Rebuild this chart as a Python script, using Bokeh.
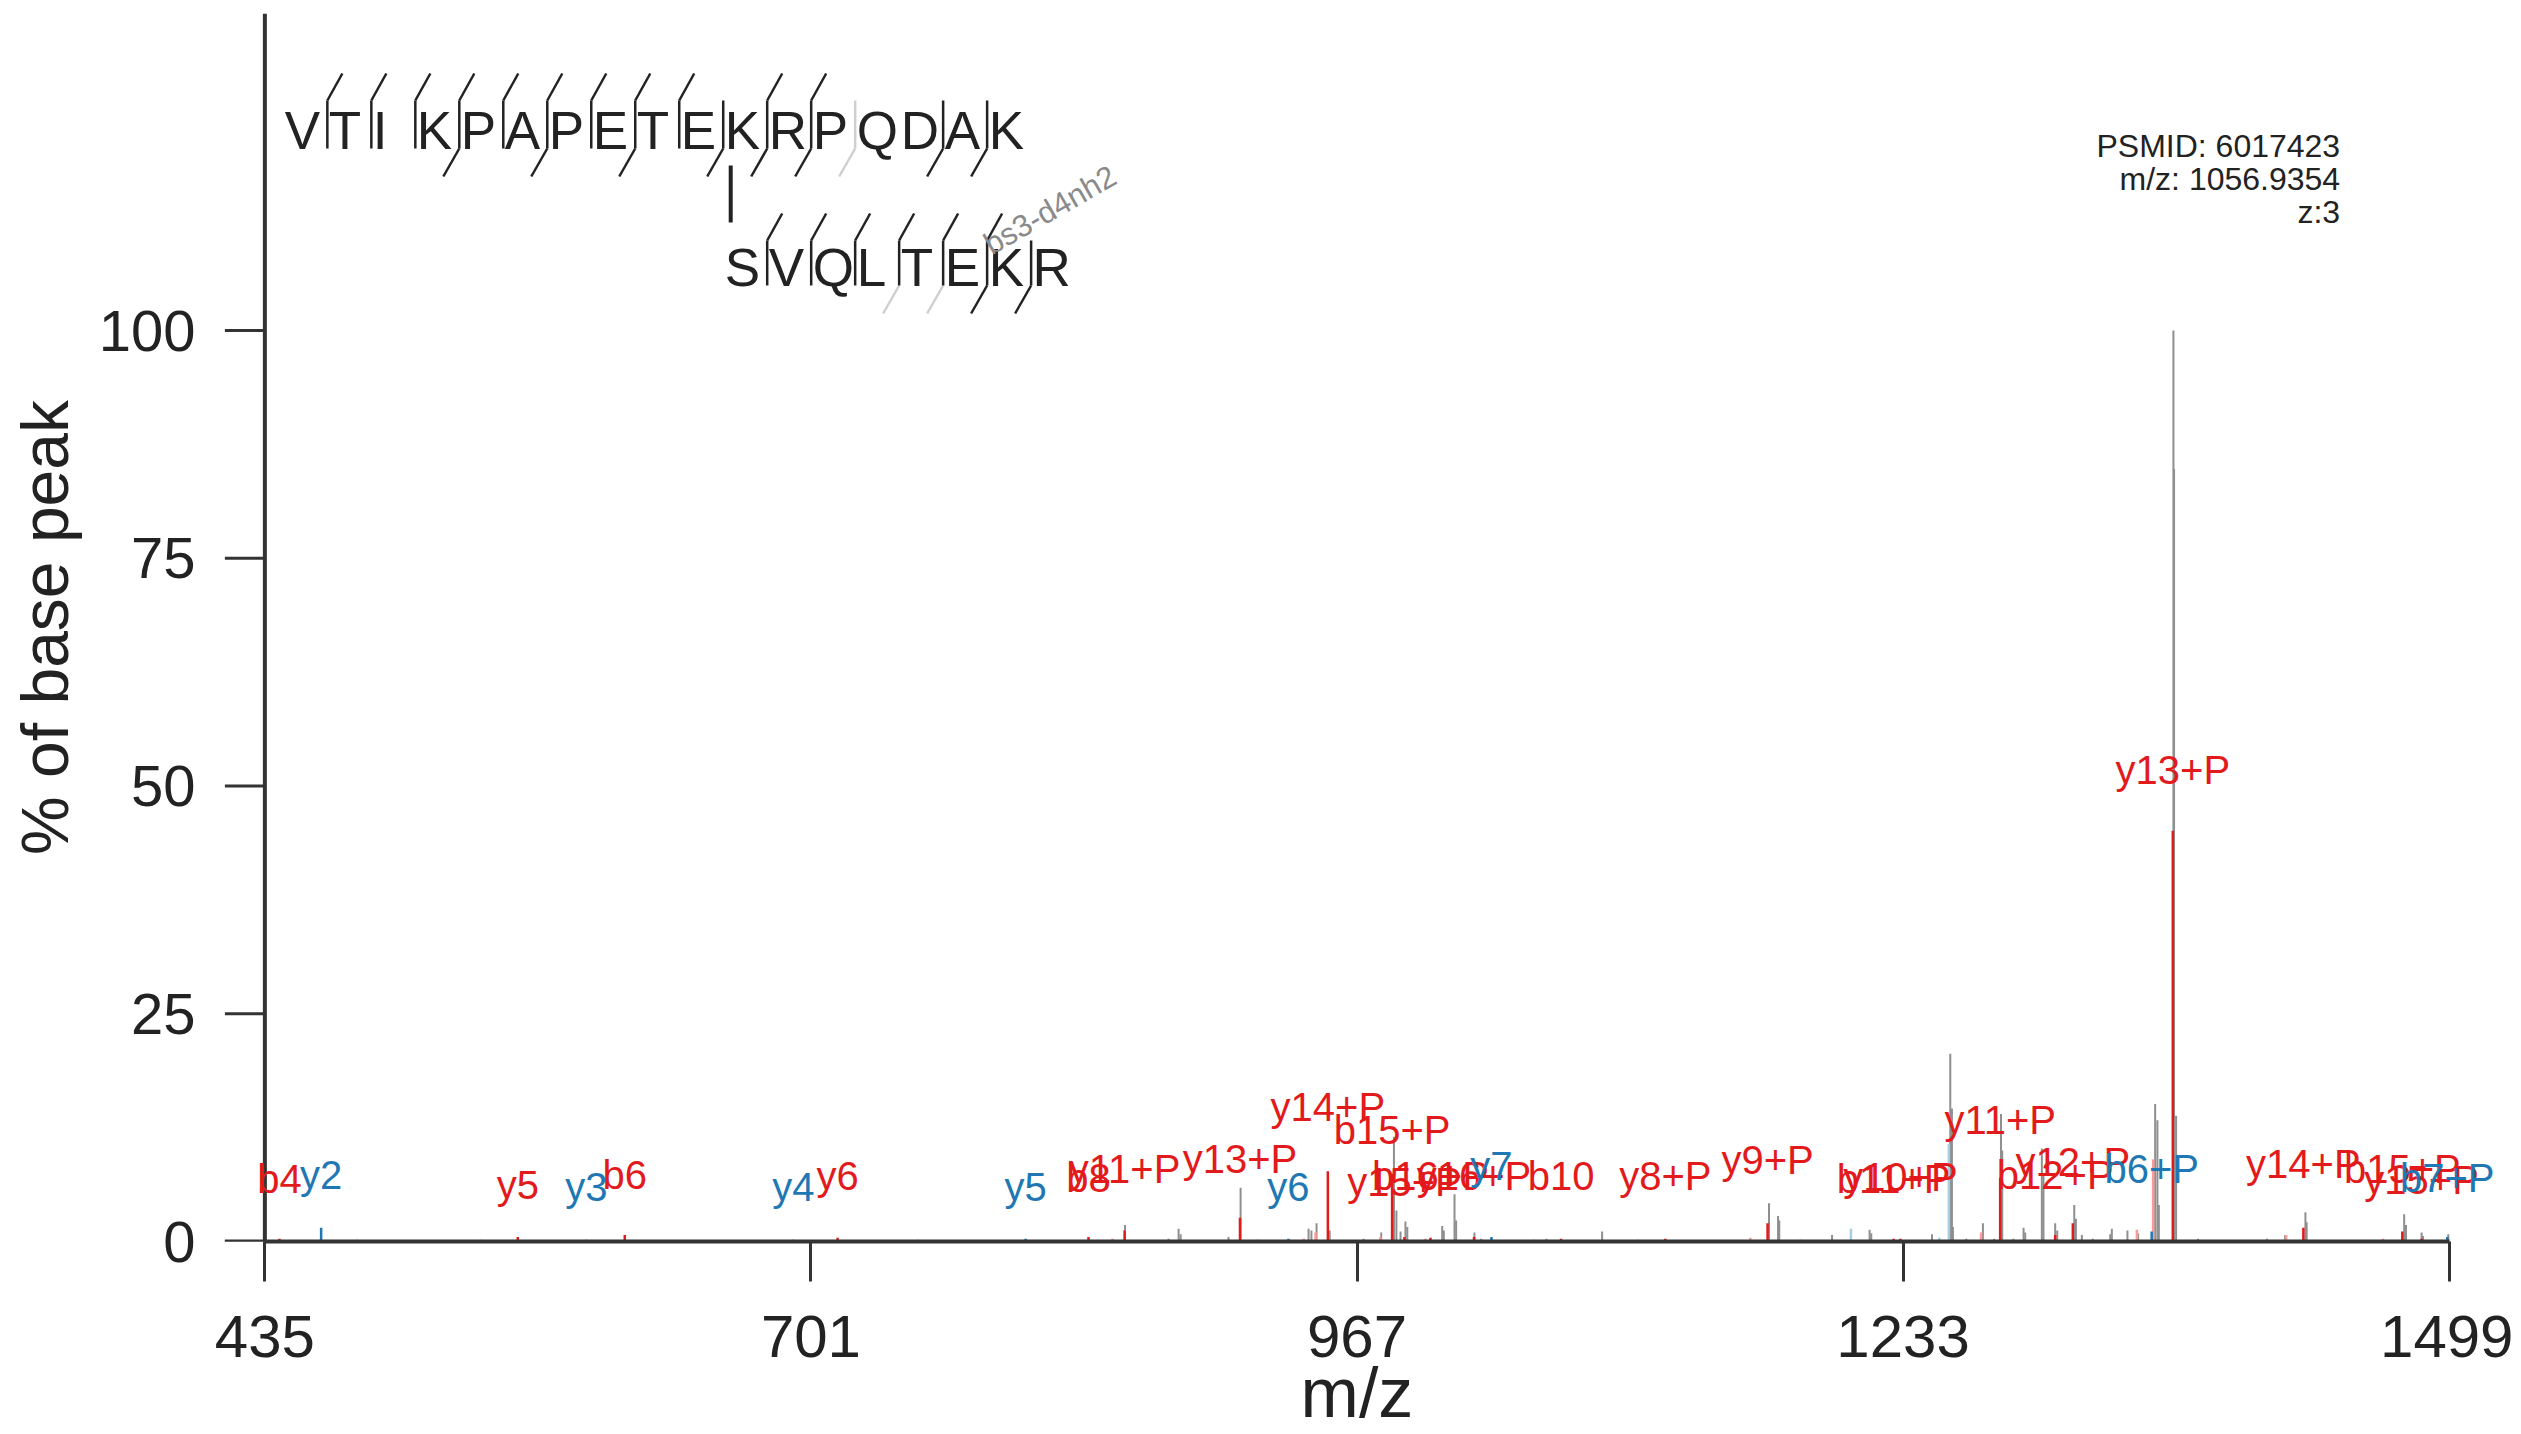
from bokeh.plotting import figure
from bokeh.models import Range1d, FixedTicker, ColumnDataSource, LabelSet
from bokeh.core.properties import value
from bokeh.embed import file_html
from bokeh.resources import INLINE

# ---------------- data ----------------
# unannotated peaks (m/z, % of base peak)
grey_mz = [480.0, 650.0, 753.0, 854.0, 875.2, 880.1, 881.1, 904.4, 910.3, 918.5,
           943.4, 944.8, 947.3, 953.7, 970.2, 978.8, 985.0, 986.2, 988.2, 990.6,
           991.5, 1002.8, 1008.5, 1009.3, 1014.5, 1015.3, 1024.2, 1027.5, 1053.0, 1059.3,
           1086.4, 1103.6, 1167.7, 1172.1, 1172.7, 1182.9, 1198.4, 1216.7, 1217.5, 1247.1,
           1256.0, 1256.8, 1257.3, 1263.8, 1271.9, 1277.4, 1280.7, 1281.3, 1286.7, 1291.7,
           1292.5, 1300.6, 1301.4, 1307.1, 1308.1, 1316.4, 1317.2, 1320.1, 1325.4, 1333.9,
           1334.7, 1342.3, 1347.5, 1355.8, 1356.9, 1357.6, 1364.7, 1365.0, 1366.0, 1376.7,
           1410.2, 1419.1, 1429.0, 1429.6, 1477.1, 1478.0, 1485.6, 1486.3, 1498.6]
grey_int = [0.2, 0.15, 0.2, 1.8, 0.3, 1.4, 0.8, 0.5, 5.9, 0.2,
            1.4, 1.2, 2.0, 1.2, 0.3, 1.0, 11.5, 3.4, 1.1, 2.2,
            1.6, 0.3, 1.7, 1.2, 5.2, 2.3, 1.0, 0.3, 0.2, 0.3,
            1.1, 0.2, 4.2, 2.8, 2.3, 0.2, 0.7, 1.3, 0.9, 0.8,
            20.6, 14.6, 1.6, 0.3, 2.0, 0.3, 14.0, 10.0, 0.3, 1.5,
            1.0, 10.2, 7.4, 2.0, 1.2, 4.0, 2.5, 0.7, 0.3, 0.8,
            1.4, 1.2, 0.9, 15.1, 13.3, 4.0, 100.0, 84.8, 13.8, 0.3,
            0.3, 0.7, 3.2, 2.1, 3.0, 1.8, 1.0, 0.6, 0.8]

# alpha peptide (VTIKPAPETEKRPQDAK) fragments
alpha_ion = ["b4", "y5", "b6", "y6", "b8", "y11+P", "y13+P", "y14+P", "b15+P", "y15+P",
             "b16+P", "y16+P", "b10", "y8+P", "y9+P", "b11+P", "y10+P", "y11+P", "b12+P", "y12+P",
             "y13+P", "y14+P", "b15+P", "y15+P"]
alpha_mz = [442.1, 558.2, 610.3, 714.0, 836.2, 853.8, 910.0, 952.8, 984.1, 990.1,
            1002.8, 1024.0, 1066.4, 1117.2, 1167.0, 1228.4, 1231.7, 1280.3, 1307.1, 1315.7,
            1364.4, 1428.0, 1476.2, 1485.6]
alpha_int = [0.3, 0.5, 0.7, 0.4, 0.5, 1.2, 2.6, 7.7, 7.4, 0.5,
             0.4, 0.5, 0.3, 0.3, 2.0, 0.3, 0.3, 7.0, 0.7, 2.0,
             45.1, 1.5, 1.1, 0.3]
alpha_label_y = [5.3, 4.7, 5.8, 5.6, 5.4, 6.4, 7.5, 13.2, 10.7, 5.0,
                 5.6, 5.6, 5.6, 5.6, 7.4, 5.3, 5.5, 11.8, 5.8, 7.2,
                 50.2, 7.0, 6.4, 5.2]
alpha_iso_mz = [540.2, 847.9, 941.0, 946.8, 978.4, 1000.3, 1158.6, 1271.0, 1346.9, 1354.8, 1419.6, 1466.8]
alpha_iso_int = [0.2, 0.3, 0.3, 1.0, 0.5, 0.3, 0.4, 1.0, 1.3, 9.0, 0.7, 0.3]

# beta peptide (SVQLTEKR) fragments
beta_ion = ["y2", "y3", "y4", "y5", "y6", "y7", "b6+P", "b7+P"]
beta_mz = [462.4, 591.6, 692.5, 805.6, 933.6, 1032.5, 1354.1, 1498.1]
beta_int = [1.5, 0.2, 0.2, 0.3, 0.3, 0.5, 1.1, 0.5]
beta_label_y = [5.8, 4.5, 4.5, 4.5, 4.5, 6.7, 6.4, 5.4]
beta_iso_mz = [1207.6, 1250.6, 1255.3]
beta_iso_int = [1.4, 0.4, 10.7]

x_ticks = [435, 701, 967, 1233, 1499]
y_ticks = [0, 25, 50, 75, 100]

alpha_seq = list("VTIKPAPETEKRPQDAK")
beta_seq = list("SVQLTEKR")
alpha_b_gaps = [1, 2, 3, 4, 5, 6, 7, 8, 9, 11, 12]
alpha_y_gaps = [4, 6, 8, 10, 11, 12, 15, 16]
alpha_y_gaps_loss = [13]
beta_b_gaps = [1, 2, 3, 4, 5, 6]
beta_y_gaps = [6, 7]
beta_y_gaps_loss = [4, 5]
link_alpha, link_beta = 11, 1
crosslinker = "bs3-d4nh2"
info_lines = ["PSMID: 6017423", "m/z: 1056.9354", "z:3"]

# ---------------- styling / geometry ----------------
FONT = "Liberation Sans"
RED, BLUE = "#e31a1c", "#1f78b4"
LRED, LBLUE = "#fb9a99", "#a6cee3"
GREY = "#8f8f8f"
TXT = "#222222"
AXC = "#333333"

X_MIN, X_MAX = 435, 1499          # axis extent
VIEW_MAX = 1525                   # room for labels at the right edge
VIEW_MIN = (X_MIN + X_MAX) - VIEW_MAX   # symmetric, keeps "m/z" centred
Y_MAX = 134.8
# page pixel anchors used for decoration placement
FL, FR, FT, FB = 264, 2449, 13, 1241
PX_PER_MZ = (FR - FL) / (X_MAX - X_MIN)


def dx(px):
    return X_MIN + (px - FL) / PX_PER_MZ


def dy(py):
    return (FB - py) * Y_MAX / (FB - FT)


frame_left = round(FL - (X_MIN - VIEW_MIN) * PX_PER_MZ)
frame_right = round(FR + (VIEW_MAX - X_MAX) * PX_PER_MZ)
W, H = 2513, 1434

p = figure(width=W, height=H, output_backend="svg", toolbar_location=None,
           x_range=Range1d(VIEW_MIN, VIEW_MAX), y_range=Range1d(0, Y_MAX),
           min_border_left=frame_left, min_border_right=W - frame_right,
           min_border_top=FT, min_border_bottom=H - FB)
p.outline_line_color = None
p.xgrid.visible = False
p.ygrid.visible = False
p.background_fill_color = "white"
p.border_fill_color = "white"

for ax in (p.xaxis[0], p.yaxis[0]):
    ax.axis_line_width = 4
    ax.axis_line_color = AXC
    ax.major_tick_line_width = 3
    ax.major_tick_line_color = AXC
    ax.major_tick_in = 0
    ax.minor_tick_line_color = None
    ax.major_label_text_font = FONT
    ax.major_label_text_color = TXT
    ax.axis_label_text_font = FONT
    ax.axis_label_text_font_style = "normal"
    ax.axis_label_text_color = TXT

p.xaxis.ticker = FixedTicker(ticks=x_ticks)
p.yaxis.ticker = FixedTicker(ticks=y_ticks)
p.xaxis.bounds = (X_MIN, X_MAX)
p.xaxis.major_tick_out = 40
p.yaxis.major_tick_out = 0           # y ticks and rule are drawn at x = 435 below
p.yaxis.major_tick_line_color = None
p.yaxis.axis_line_color = None
p.xaxis.major_label_text_font_size = "60px"
p.yaxis.major_label_text_font_size = "58px"
p.xaxis.major_label_standoff = 34
p.yaxis.major_label_standoff = frame_left - 195
p.xaxis.axis_label = "m/z"
p.yaxis.axis_label = "% of base peak"
p.xaxis.axis_label_text_font_size = "70px"
p.yaxis.axis_label_text_font_size = "66px"
p.xaxis.axis_label_standoff = -6
p.yaxis.axis_label_standoff = 14

# y axis rule at the first x tick, with its ticks
tick_x0 = dx(FL - 40)
p.segment(x0=[tick_x0] * len(y_ticks), y0=y_ticks, x1=[X_MIN] * len(y_ticks), y1=y_ticks,
          line_color=AXC, line_width=3)
p.segment(x0=[X_MIN], y0=[0], x1=[X_MIN], y1=[Y_MAX], line_color=AXC, line_width=4)
p.segment(x0=[tick_x0], y0=[0], x1=[X_MIN], y1=[0], line_color=AXC, line_width=4)

# ---------------- peaks ----------------
def peaks(mz, inten, color, width):
    src = ColumnDataSource(dict(x=mz, top=inten, bot=[0] * len(mz)))
    p.segment(x0="x", y0="bot", x1="x", y1="top", source=src, line_color=color,
              line_width=width, line_cap="butt")

peaks(grey_mz, grey_int, GREY, 2)
peaks(alpha_iso_mz, alpha_iso_int, LRED, 2.5)
peaks(beta_iso_mz, beta_iso_int, LBLUE, 2.5)
peaks(alpha_mz, alpha_int, RED, 2.5)
peaks(beta_mz, beta_int, BLUE, 2.5)


def labels(xs, ys, texts, color, size, align="center", angle=0.0):
    src = ColumnDataSource(dict(x=xs, y=ys, t=texts))
    p.add_layout(LabelSet(x="x", y="y", text="t", source=src, text_align=align,
                          text_baseline="alphabetic", text_color=color, angle=angle,
                          text_font=value(FONT), text_font_size=value(size)))


# ---------------- peak labels ----------------
labels(alpha_mz, alpha_label_y, alpha_ion, RED, "40px")
labels(beta_mz, beta_label_y, beta_ion, BLUE, "40px")

# ---------------- info text ----------------
labels([dx(2340)] * 3, [dy(156), dy(189), dy(222)], info_lines, TXT, "32px", align="right")

# ---------------- sequence diagram ----------------
STEP = 44
A0, B0 = 284, 724           # letter origins (px)
A_BASE, B_BASE = 148, 285   # baselines (px)
labels([dx(A0 + STEP * i) for i in range(len(alpha_seq))], [dy(A_BASE)] * len(alpha_seq),
       alpha_seq, TXT, "53px", align="left")
labels([dx(B0 + STEP * i) for i in range(len(beta_seq))], [dy(B_BASE)] * len(beta_seq),
       beta_seq, TXT, "53px", align="left")


def markers(n, x0, ytop, ybase, bg, yg, yl):
    dark = dict(x0=[], y0=[], x1=[], y1=[])
    light = dict(x0=[], y0=[], x1=[], y1=[])

    def add(d, a, b, c, e):
        d["x0"].append(dx(a)); d["y0"].append(dy(b)); d["x1"].append(dx(c)); d["y1"].append(dy(e))

    for g in range(1, n):
        x = x0 - 1.5 + STEP * g
        hb, hy, hl = g in bg, g in yg, g in yl
        if not (hb or hy or hl):
            continue
        add(dark if (hb or hy) else light, x, ytop, x, ybase)
        if hb:
            add(dark, x, ytop, x + 15, ytop - 27)
        if hy:
            add(dark, x, ybase, x - 16, ybase + 28)
        if hl:
            add(light, x, ybase, x - 16, ybase + 28)
    p.segment(x0="x0", y0="y0", x1="x1", y1="y1", source=ColumnDataSource(light),
              line_color="#cfcfcf", line_width=2.5)
    p.segment(x0="x0", y0="y0", x1="x1", y1="y1", source=ColumnDataSource(dark),
              line_color=TXT, line_width=2.5)

markers(len(alpha_seq), A0, 100, A_BASE, alpha_b_gaps, alpha_y_gaps, alpha_y_gaps_loss)
markers(len(beta_seq), B0, 240, B_BASE, beta_b_gaps, beta_y_gaps, beta_y_gaps_loss)

# cross-link bar
lx = A0 + STEP * (link_alpha - 1) + 6
p.segment(x0=[dx(lx)], y0=[dy(165)], x1=[dx(lx)], y1=[dy(222)], line_color=TXT, line_width=4)
labels([dx(991)], [dy(255)], [crosslinker], "#8a8a8a", "31px", align="left", angle=0.52)

open("out.html", "w").write(file_html(p, INLINE))
